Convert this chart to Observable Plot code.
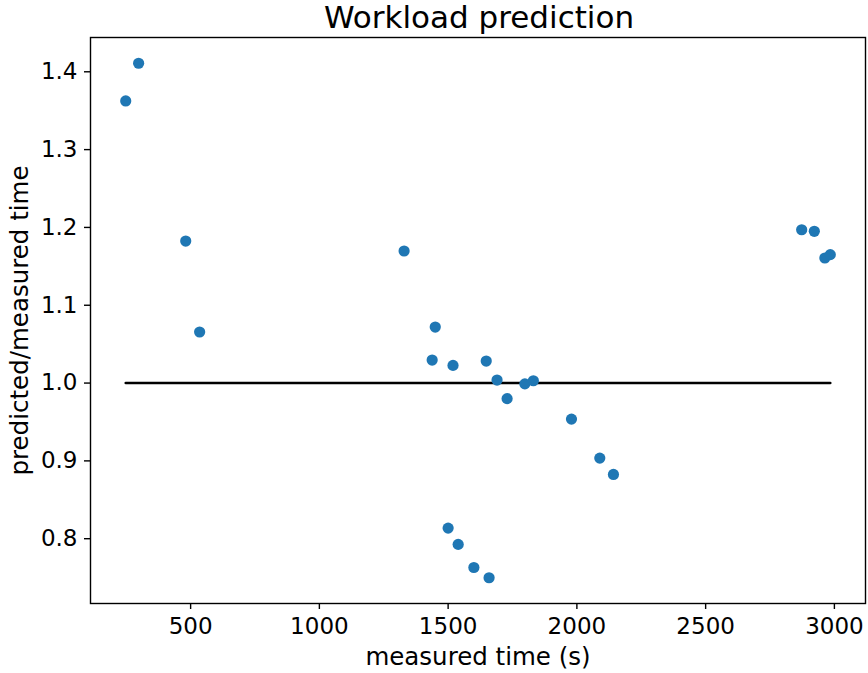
<!DOCTYPE html>
<html>
<head>
<meta charset="utf-8">
<script src="https://cdn.jsdelivr.net/npm/d3@7"></script>
<script src="https://cdn.jsdelivr.net/npm/@observablehq/plot@0.6"></script>
<style>
  html, body { margin: 0; padding: 0; background: #fff; }
  #title { width: 868px; height: 30px; position: relative; font-family: "DejaVu Sans", sans-serif; }
  #title span { position: absolute; left: 479px; transform: translateX(-50%); top: -1px; font-size: 31px; line-height: normal; white-space: nowrap; }
</style>
</head>
<body>
<div id="title"><span>Workload prediction</span></div>
<div id="chart"></div>
<script>
const measured = [248, 298, 481, 535, 1329, 1450, 1438, 1519, 1648, 1690, 1729, 1798, 1831, 1979, 2089, 2142, 1500, 1539, 1600, 1659, 2873, 2922, 2963, 2984];
const ratio = [1.3625, 1.411, 1.1825, 1.0656, 1.1697, 1.072, 1.0296, 1.0227, 1.0283, 1.0039, 0.980, 0.999, 1.003, 0.9537, 0.9036, 0.8826, 0.8136, 0.7927, 0.763, 0.7498, 1.197, 1.195, 1.1607, 1.165];
const xTicks = [500, 1000, 1500, 2000, 2500, 3000];
const yTicks = [0.8, 0.9, 1.0, 1.1, 1.2, 1.3, 1.4];
const xLabel = "measured time (s)";
const yLabel = "predicted/measured time";

const points = measured.map((m, i) => ({measured: m, ratio: ratio[i]}));
const xMin = d3.min(measured), xMax = d3.max(measured);
const yMin = d3.min(ratio), yMax = d3.max(ratio);
const xPad = (xMax - xMin) * 0.05, yPad = (yMax - yMin) * 0.05;
const refLine = [{measured: xMin, ratio: 1}, {measured: xMax, ratio: 1}];

const chart = Plot.plot({
  width: 868,
  height: 643,
  marginTop: 7,
  marginBottom: 70,
  marginLeft: 90,
  marginRight: 3,
  style: {fontFamily: "DejaVu Sans, sans-serif", fontSize: "23px", color: "black", background: "white"},
  x: {domain: [xMin - xPad, xMax + xPad]},
  y: {domain: [yMin - yPad, yMax + yPad]},
  marks: [
    Plot.line(refLine, {x: "measured", y: "ratio", stroke: "black", strokeWidth: 2.6}),
    Plot.dot(points, {x: "measured", y: "ratio", r: 5.6, fill: "#1f77b4", stroke: "none"}),
    Plot.frame({stroke: "black", strokeWidth: 1.4}),
    Plot.axisX({ticks: xTicks, tickSize: 6, tickPadding: 8, tickFormat: d3.format("d"), label: null, fontSize: 23, strokeWidth: 1.4}),
    Plot.axisY({ticks: yTicks, tickSize: 6, tickPadding: 7, tickFormat: d3.format(".1f"), label: null, fontSize: 23, strokeWidth: 1.4}),
    Plot.text([xLabel], {text: d => d, frameAnchor: "bottom", dy: 54, lineAnchor: "middle", textAnchor: "middle", fontSize: 24.5, fill: "black"}),
    Plot.text([yLabel], {text: d => d, frameAnchor: "left", dx: -70, rotate: -90, lineAnchor: "middle", textAnchor: "middle", fontSize: 24.5, fill: "black"})
  ]
});
document.getElementById("chart").appendChild(chart);
</script>
</body>
</html>
